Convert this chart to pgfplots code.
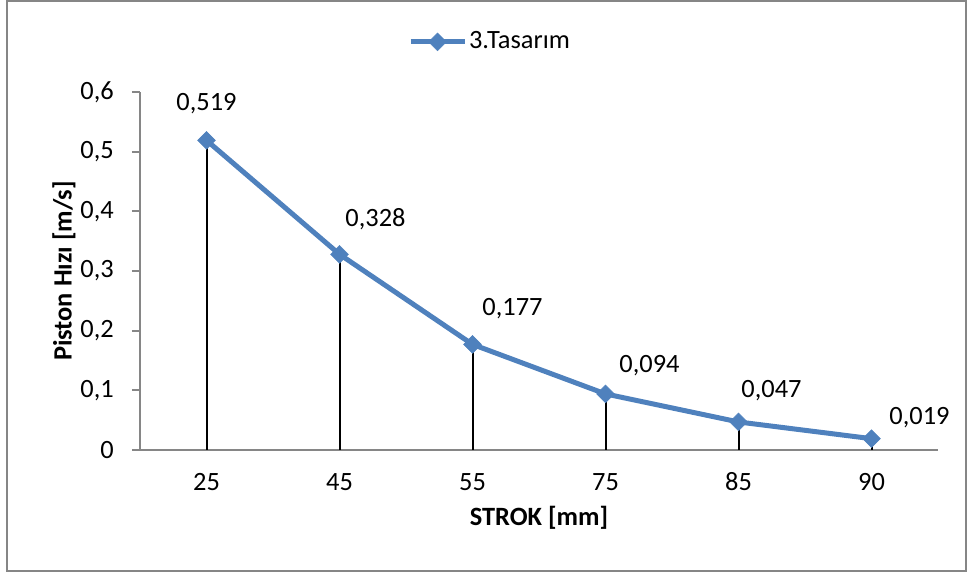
\documentclass[border=0pt]{standalone}
\usepackage{pgfplots}
\pgfplotsset{compat=1.18}
\usepackage{fontspec}
\setmainfont{Carlito}
\definecolor{serblue}{HTML}{4F81BD}
\definecolor{axgray}{HTML}{868686}
\begin{document}
\fontsize{26}{31}\selectfont
\begin{tikzpicture}
\path[use as bounding box] (0,0) rectangle (968bp,574bp);
\draw[axgray, line width=1.8bp] (7bp,3bp) rectangle (966bp,573bp);
\begin{axis}[
  at={(140bp,124bp)}, anchor=south west,
  scale only axis, width=798bp, height=358bp,
  xmin=-0.5, xmax=5.5, ymin=0, ymax=0.6,
  axis lines=left,
  axis line style={-, draw=axgray, line width=2bp},
  xtick={0,1,2,3,4,5},
  xticklabels={25,45,55,75,85,90},
  xtick style={draw=none},
  ytick={0,0.1,0.2,0.3,0.4,0.5,0.6},
  ytick style={draw=axgray, line width=2bp},
  tick align=outside,
  major tick length=8bp,
  /pgf/number format/assume math mode=true,
  /pgf/number format/.cd, fixed, precision=1, use comma, /pgfplots/.cd,
  yticklabel style={anchor=east, inner sep=0pt, xshift=-18bp},
  xticklabel style={anchor=center, yshift=-24bp, inner sep=0pt},
  tick label style={font=\fontsize{26.5}{31}\selectfont},
  xlabel={\bfseries STROK [mm]},
  ylabel={\bfseries Piston Hızı [m/s]},
  xlabel style={at={(axis description cs:0.5,-0.19)}, anchor=center, inner sep=0pt},
  ylabel style={at={(axis description cs:-0.0952,0.5)}, anchor=center, inner sep=0pt},
  label style={font=\fontsize{26.5}{31}\selectfont},
  legend style={at={(axis description cs:0.4386,1.14)}, anchor=center, draw=none, fill=none,
    font=\fontsize{26.5}{31}\selectfont, inner sep=0pt},
  legend image code/.code={
    \draw[mark repeat=2,mark phase=2,#1] plot coordinates {(0bp,0bp) (27bp,0bp) (54bp,0bp)};
  },
  clip=false,
]
\addplot[serblue, line width=5bp, mark=square*, mark size=6.3bp,
  mark options={rotate=45, fill=serblue, draw=serblue, line width=0.5bp}]
  coordinates {(0,0.519) (1,0.328) (2,0.177) (3,0.094) (4,0.047) (5,0.019)};
\addlegendentry{3.Tasarım}
\addplot[ycomb, black, line width=2bp, forget plot]
  coordinates {(0,0.519) (1,0.328) (2,0.177) (3,0.094) (4,0.047) (5,0.019)};
\begin{scope}[font=\fontsize{26.5}{31}\selectfont]
\node[xshift=0bp, yshift=37bp] at (axis cs:0,0.519) {0,519};
\node[xshift=36bp, yshift=35bp] at (axis cs:1,0.328) {0,328};
\node[xshift=40bp, yshift=36bp] at (axis cs:2,0.177) {0,177};
\node[xshift=44bp, yshift=28bp] at (axis cs:3,0.094) {0,094};
\node[xshift=33bp, yshift=31bp] at (axis cs:4,0.047) {0,047};
\node[xshift=48bp, yshift=21bp] at (axis cs:5,0.019) {0,019};
\end{scope}
\end{axis}
\end{tikzpicture}
\end{document}
